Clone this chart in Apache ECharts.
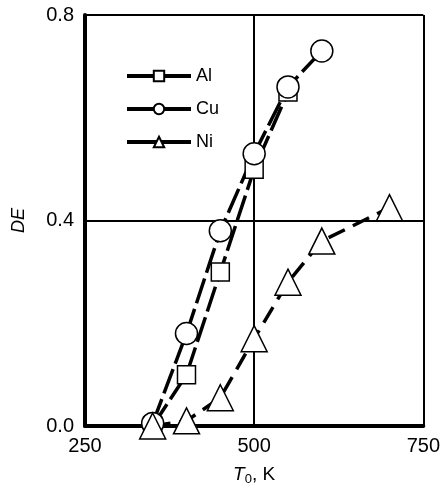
<!DOCTYPE html>
<html><head><meta charset="utf-8">
<script src="https://cdn.jsdelivr.net/npm/echarts@6/dist/echarts.min.js"></script>
<style>html,body{margin:0;padding:0;background:#fff}#c{width:443px;height:496px}</style>
</head><body><div id="c"></div>
<script>
const xTicks = [250, 500, 750];
const yTicks = [0.0, 0.4, 0.8];
const alT = [350, 400, 450, 500, 550];
const alDE = [0.0, 0.10, 0.30, 0.50, 0.65];
const cuT = [350, 400, 450, 500, 550, 600];
const cuDE = [0.005, 0.18, 0.38, 0.53, 0.66, 0.73];
const niT = [350, 400, 450, 500, 550, 600, 700];
const niDE = [0.0, 0.01, 0.055, 0.17, 0.28, 0.36, 0.425];

const pair = (xs, ys) => xs.map((x, i) => [x, ys[i]]);
const font = 'Liberation Sans, Arial, sans-serif';
const chart = echarts.init(document.getElementById('c'));
const mk = (name, xs, ys, sym, size, dash) => ({
  name, type: 'line', data: pair(xs, ys), symbol: sym, symbolSize: size,
  clip: false,
  lineStyle: { color: '#000', width: 3.5, type: dash },
  itemStyle: { color: '#fff', borderColor: '#000', borderWidth: 1.5 },
  emphasis: { disabled: true }
});
chart.setOption({
  animation: false,
  grid: { left: 85, right: 18, top: 15, bottom: 70 },
  legend: {
    left: 120, top: 62, orient: 'vertical', itemWidth: 64, itemHeight: 13, itemGap: 15,
    textStyle: { fontFamily: font, fontSize: 18, color: '#000' },
    lineStyle: { type: 'solid', width: 4 },
    data: ['Al', 'Cu', 'Ni']
  },
  xAxis: {
    type: 'value', min: xTicks[0], max: xTicks[2], interval: 250,
    name: '{i|T}{s|0}{n|, K}', nameLocation: 'middle', nameGap: 38,
    nameTextStyle: { rich: {
      i: { fontFamily: font, fontSize: 19, fontStyle: 'italic', color: '#000' },
      s: { fontFamily: font, fontSize: 13, color: '#000', verticalAlign: 'bottom', padding: [9, 0, 0, 0] },
      n: { fontFamily: font, fontSize: 19, color: '#000' } } },
    axisLine: { lineStyle: { color: '#000', width: 4 } },
    axisTick: { show: false },
    axisLabel: { fontFamily: font, fontSize: 20, color: '#000', margin: 10 },
    splitLine: { show: true, lineStyle: { color: '#000', width: 2 } }
  },
  yAxis: {
    type: 'value', min: yTicks[0], max: yTicks[2], interval: 0.4,
    name: 'DE', nameLocation: 'middle', nameGap: 57,
    nameTextStyle: { fontFamily: font, fontSize: 18, fontStyle: 'italic', color: '#000' },
    axisLine: { lineStyle: { color: '#000', width: 4 } },
    axisTick: { show: false },
    axisLabel: { fontFamily: font, fontSize: 20, color: '#000', margin: 11, formatter: v => v.toFixed(1) },
    splitLine: { show: true, lineStyle: { color: '#000', width: 2 } }
  },
  series: [
    mk('Al', alT, alDE, 'rect', 18, [26, 6]),
    mk('Cu', cuT, cuDE, 'circle', 22, [26, 6]),
    mk('Ni', niT, niDE, 'triangle', 26, [18, 9])
  ]
});
</script></body></html>
